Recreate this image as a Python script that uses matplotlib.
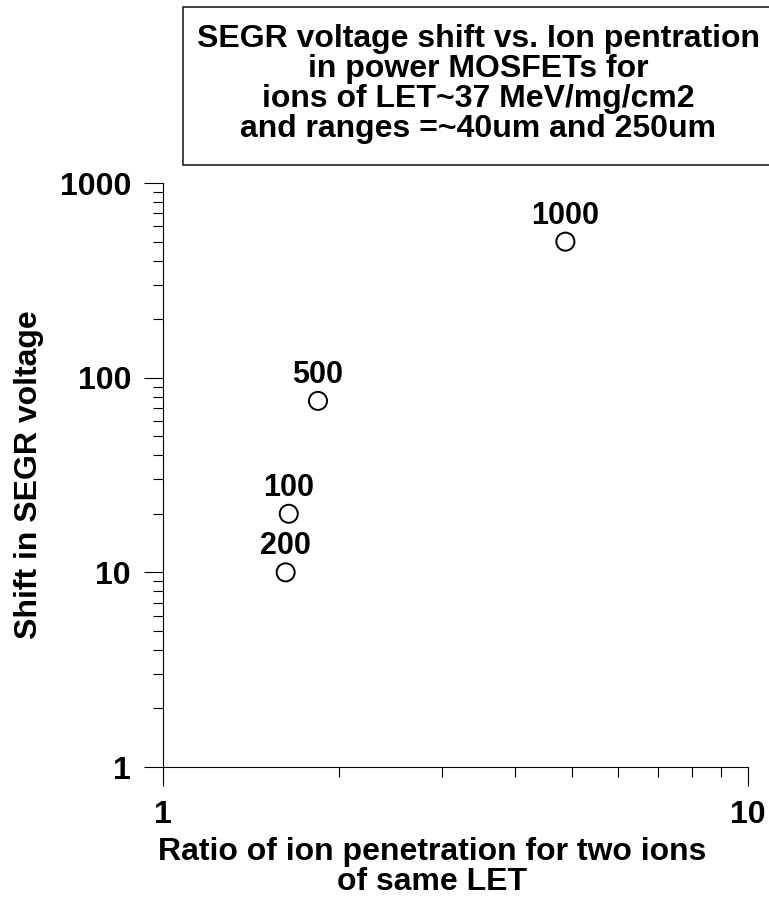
import matplotlib
matplotlib.use("Agg")
import matplotlib.pyplot as plt
import matplotlib.patches as mpatches
from matplotlib.ticker import LogLocator, NullFormatter, FixedFormatter, FixedLocator

# penetration ratio vs. SEGR voltage shift, labelled by bias/energy
ratio = [4.87, 1.84, 1.64, 1.62]
shift = [500, 76, 20, 10]
point_labels = ["1000", "500", "100", "200"]

x_ticks = [1, 10]
y_ticks = [1, 10, 100, 1000]

TITLE = ("SEGR voltage shift vs. Ion pentration\n"
         "in power MOSFETs for\n"
         "ions of LET~37 MeV/mg/cm2\n"
         "and ranges =~40um and 250um")

plt.rcParams["font.family"] = ["Liberation Sans", "DejaVu Sans"]
plt.rcParams["font.weight"] = "bold"

fig = plt.figure(figsize=(7.69, 8.99), dpi=100)
ax = fig.add_axes([0.212, 0.1468, 0.761, 0.6496])

ax.scatter(ratio, shift, s=13 ** 2, facecolors="none", edgecolors="black",
           linewidths=1.4, zorder=3)
for x, y, lab in zip(ratio, shift, point_labels):
    ax.annotate(lab, (x, y), xytext=(0, 13), textcoords="offset points",
                ha="center", va="baseline", fontsize=22, fontweight="bold")

ax.set_xscale("log")
ax.set_yscale("log")
ax.set_xlim(1, 10)
ax.set_ylim(1, 1000)

ax.xaxis.set_major_locator(FixedLocator(x_ticks))
ax.xaxis.set_major_formatter(FixedFormatter([str(v) for v in x_ticks]))
ax.yaxis.set_major_locator(FixedLocator(y_ticks))
ax.yaxis.set_major_formatter(FixedFormatter([str(v) for v in y_ticks]))
ax.xaxis.set_minor_locator(LogLocator(base=10, subs=range(2, 10)))
ax.yaxis.set_minor_locator(LogLocator(base=10, subs=range(2, 10)))
ax.xaxis.set_minor_formatter(NullFormatter())
ax.yaxis.set_minor_formatter(NullFormatter())

for side in ("top", "right"):
    ax.spines[side].set_visible(False)
for side in ("left", "bottom"):
    ax.spines[side].set_linewidth(0.8)

ax.tick_params(which="major", direction="out", length=14, width=0.8,
               labelsize=23)
ax.tick_params(which="minor", direction="out", length=7, width=0.8)
ax.tick_params(axis="x", which="major", pad=9.5)
ax.tick_params(axis="y", which="major", pad=9)

ax.set_xlabel("Ratio of ion penetration for two ions\nof same LET",
              fontsize=23, fontweight="bold", linespacing=0.98)
ax.xaxis.set_label_coords(0.46, -0.12)
ax.set_ylabel("Shift in SEGR voltage", fontsize=23, fontweight="bold")
ax.yaxis.set_label_coords(-0.229, 0.5)
ax.yaxis.label.set_va("center")

box = mpatches.Rectangle((0.238, 0.8165), 0.77, 0.1755, transform=fig.transFigure,
                         facecolor="white", edgecolor="#222222", linewidth=1.2)
fig.patches.append(box)
fig.text(0.622, 0.9065, TITLE, ha="center", va="center", fontsize=23,
         fontweight="bold", linespacing=1.01)

fig.savefig("out.png", dpi=100)
